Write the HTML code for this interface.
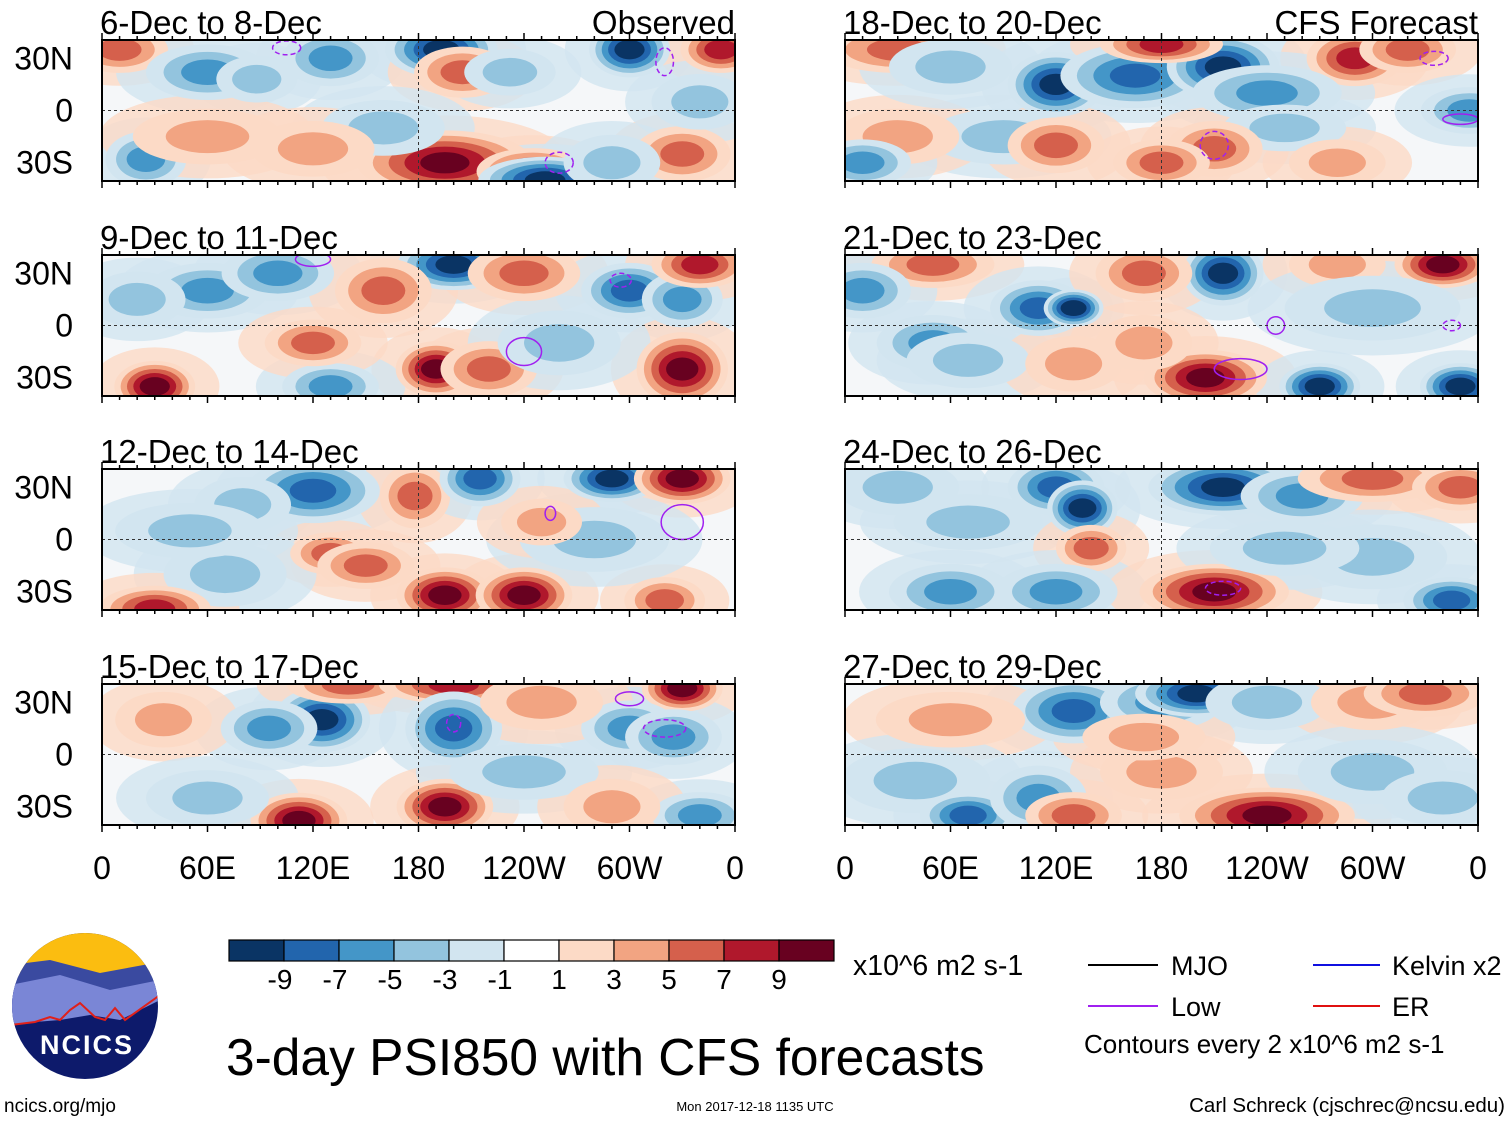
<!DOCTYPE html>
<html><head><meta charset="utf-8"><style>
body{margin:0;background:#fff;width:1510px;height:1121px;overflow:hidden;font-family:"Liberation Sans",sans-serif}
svg text{font-family:"Liberation Sans",sans-serif}
</style></head><body>
<svg id="fig" width="1510" height="1121" viewBox="0 0 1510 1121" xmlns="http://www.w3.org/2000/svg">
<g id="panels"></g>
<g id="bottom">
 <g>
  <clipPath id="logoclip"><circle cx="85" cy="1006" r="73"/></clipPath>
  <g clip-path="url(#logoclip)">
   <rect x="10" y="930" width="150" height="160" fill="#0d1a6b"/>
   <rect x="10" y="930" width="150" height="45" fill="#fbbd10"/>
   <path d="M10 965 L50 960 L100 973 L160 962 L160 1000 L10 1010Z" fill="#3a4aa0"/>
   <path d="M10 985 L60 975 L110 990 L160 980 L160 1000 L140 1010 L120 1020 L90 1015 L60 1020 L35 1022 L10 1025Z" fill="#7a86d6"/>
   <path d="M10 1025 L35 1022 L50 1017 L60 1020 L70 1010 L80 1003 L95 1017 L105 1020 L115 1008 L125 1020 L160 995" fill="none" stroke="#e0201a" stroke-width="2"/>
  </g>
  <text x="87" y="1054" font-size="27" font-weight="bold" fill="#fff" text-anchor="middle" letter-spacing="2">NCICS</text>
 </g>
 <text x="4" y="1112" font-size="19">ncics.org/mjo</text>
 <g id="cbar"></g>
 <text x="853" y="975" font-size="28.5">x10^6 m2 s-1</text>
 <text x="226" y="1075" font-size="51.5">3-day PSI850 with CFS forecasts</text>
 <text x="755" y="1111" font-size="13" text-anchor="middle">Mon 2017-12-18 1135 UTC</text>
 <text x="1505" y="1112" font-size="20.5" text-anchor="end">Carl Schreck (cjschrec@ncsu.edu)</text>
 <g>
  <line x1="1088" y1="965" x2="1158" y2="965" stroke="#000" stroke-width="2"/><text x="1171" y="975" font-size="27">MJO</text>
  <line x1="1088" y1="1006" x2="1158" y2="1006" stroke="#a020f0" stroke-width="2"/><text x="1171" y="1016" font-size="27">Low</text>
  <line x1="1313" y1="965" x2="1380" y2="965" stroke="#1010e0" stroke-width="2"/><text x="1392" y="975" font-size="27">Kelvin x2</text>
  <line x1="1313" y1="1006" x2="1380" y2="1006" stroke="#e01010" stroke-width="2"/><text x="1392" y="1016" font-size="27">ER</text>
  <text x="1084" y="1053" font-size="26">Contours every 2 x10^6 m2 s-1</text>
 </g>
</g>
</svg>
<script>
const levelColors=["#0a3464","#2265ad","#4496c8","#93c4de","#d2e5f0","#ffffff","#fcdac6","#f2a482","#d5604c","#b0182c","#680120"];
const levelTicks=["-9","-7","-5","-3","-1","1","3","5","7","9"];
const titles=["6-Dec to 8-Dec","9-Dec to 11-Dec","12-Dec to 14-Dec","15-Dec to 17-Dec","18-Dec to 20-Dec","21-Dec to 23-Dec","24-Dec to 26-Dec","27-Dec to 29-Dec"];
const lonTicks=[0,60,120,180,240,300,360];
const lonLabels=["0","60E","120E","180","120W","60W","0"];
const latTicks=[30,0,-30];
const latLabels=["30N","0","30S"];
// anomaly centres per panel: [lon, lat, value, lon-radius, lat-radius]
const blobs1=[[10,35,5,15,8],[60,22,-5,20,10],[88,18,-3,12,8],[130,30,-5,15,10],[193,35,-9,18,10],[205,22,5,15,9],[232,22,-3,14,8],[300,35,-9,12,10],[352,35,7,12,8],[195,-30,9,30,12],[245,-35,7,18,8],[252,-40,-9,22,8],[25,-28,-5,12,10],[160,-10,-3,20,10],[120,-22,3,20,10],[60,-15,3,25,10],[330,-25,5,15,10],[290,-30,-3,15,10],[340,5,-3,15,10]];
const blobs2=[[60,20,-5,20,10],[100,30,-5,18,10],[200,35,-9,18,9],[160,20,5,15,12],[240,30,5,18,10],[300,20,-7,15,10],[330,15,-5,12,10],[340,35,7,15,8],[30,-35,9,12,9],[190,-25,9,12,10],[220,-25,5,15,10],[330,-25,9,14,14],[130,-35,-5,15,8],[120,-10,5,15,8],[260,-10,-3,20,12],[20,15,-3,15,10]];
const blobs3=[[120,28,-7,22,12],[80,20,-3,15,10],[178,25,5,10,12],[215,35,-7,12,10],[290,35,-9,15,8],[330,35,9,15,9],[130,-8,5,12,7],[150,-15,5,15,8],[70,-20,-3,20,12],[30,-40,7,18,8],[195,-32,9,15,10],[240,-32,9,15,10],[320,-35,5,12,8],[280,0,-3,25,12],[250,10,3,12,8],[50,5,-3,25,10]];
const blobs4=[[125,20,-9,15,12],[95,15,-5,15,10],[140,40,5,20,6],[200,40,7,25,6],[200,15,-7,15,14],[330,38,9,12,8],[300,15,-5,15,10],[325,10,-5,15,10],[35,20,3,15,10],[112,-38,9,15,10],[195,-30,9,15,10],[240,-10,-3,25,10],[340,-35,-5,15,8],[60,-25,-3,20,10],[290,-30,3,15,10],[250,30,3,20,10]];
const blobs5=[[30,35,5,25,8],[120,15,-9,15,12],[165,20,-7,25,12],[215,25,-9,18,12],[180,38,7,20,6],[290,30,7,15,10],[320,35,5,15,8],[240,10,-5,25,10],[250,-10,-3,20,8],[90,-15,-3,25,10],[120,-20,5,15,10],[210,-22,5,15,10],[180,-30,5,15,8],[30,-15,3,20,10],[10,-30,-5,15,8],[355,0,-5,15,8],[280,-30,3,15,8],[60,25,-3,20,10]];
const blobs6=[[50,35,5,20,8],[10,20,-5,15,10],[110,10,-7,15,10],[130,10,-9,8,6],[215,30,-9,12,12],[170,30,5,15,10],[280,35,3,15,8],[340,35,9,15,8],[50,-10,-5,18,10],[70,-20,-3,20,10],[205,-30,9,20,10],[170,-10,3,15,10],[270,-35,-9,12,8],[350,-35,-9,12,8],[130,-22,3,15,10],[300,10,-3,30,12]];
const blobs7=[[120,30,-7,15,10],[135,18,-9,10,10],[215,30,-9,25,10],[260,25,-5,20,10],[300,35,5,25,8],[350,30,5,15,8],[30,30,-3,20,10],[70,10,-3,25,10],[140,-5,5,10,8],[60,-30,-5,20,10],[120,-30,-5,20,10],[210,-30,9,25,10],[300,-10,-3,25,12],[345,-35,-7,15,8],[250,-5,-3,25,10]];
const blobs8=[[130,25,-7,20,12],[180,30,-5,20,10],[200,35,-9,20,8],[240,30,-3,20,10],[300,30,3,20,10],[330,35,5,20,8],[60,20,3,25,10],[40,-15,-3,25,12],[70,-35,-7,15,8],[110,-25,-5,15,12],[180,-10,3,20,10],[240,-35,9,30,10],[130,-35,5,15,8],[300,-10,-3,25,12],[340,-25,-3,20,10],[170,10,3,20,8]];
const allBlobs=[blobs1,blobs2,blobs3,blobs4,blobs5,blobs6,blobs7,blobs8];
// purple "low" contours: [lon, lat, lon-radius, lat-radius, dashed]
const lows=[[[105,36,8,4,1],[260,-30,8,6,1],[320,28,5,8,1]],[[120,38,10,4,0],[240,-15,10,8,0],[295,26,6,4,1]],[[330,10,12,10,0],[255,15,3,4,0]],[[320,15,12,5,1],[200,18,4,5,1],[300,32,8,4,0]],[[335,30,8,4,1],[210,-20,8,8,1],[350,-5,10,3,0]],[[225,-25,15,6,0],[245,0,5,5,0],[345,0,5,3,1]],[[215,-28,10,4,1]],[]];
const NS="http://www.w3.org/2000/svg";
function mk(t,a,p){const e=document.createElementNS(NS,t);for(const k in a)e.setAttribute(k,a[k]);p.appendChild(e);return e;}
const colX=[102,845], rowY=[40,255,469,684], PW=633, PH=141;
const root=document.getElementById('panels');
allBlobs.forEach((bl,p)=>{
  const x0=colX[p<4?0:1], y0=rowY[p%4];
  const xs=lon=>x0+lon/360*PW, ys=lat=>y0+PH/2-lat*(PH/2)/40.5;
  const g=mk('g',{},root);
  
  
  const cp=mk('clipPath',{id:'c'+p},g);
  mk('rect',{x:x0,y:y0,width:PW,height:PH},cp);
  const inner=mk('g',{'clip-path':'url(#c'+p+')'},g);
  mk('rect',{x:x0,y:y0,width:PW,height:PH,fill:'#f5f7f9'},inner);
  // faint halo pass
  bl.forEach(b=>{
    const e=mk('ellipse',{cx:xs(b[0]),cy:ys(b[1]),rx:(b[3]*1.9+14)/360*PW,ry:(b[4]*1.6+8)*(PH/2)/40.5,fill:levelColors[5+Math.sign(b[2])],opacity:0.8},inner);
    
    
  });
  bl.forEach(b=>{
    const n=Math.ceil(Math.abs(b[2])/2);
    for(let i=1;i<=n;i++){
      const f=(n-i+1)/n;
      const e=mk('ellipse',{cx:xs(b[0]),cy:ys(b[1]),rx:(b[3]*1.5*f+5)/360*PW,ry:(b[4]*1.3*f+3)*(PH/2)/40.5,fill:levelColors[5+Math.sign(b[2])*i]},inner);
      
      
    }
  });
  (lows[p]||[]).forEach(l=>{
    const e=mk('ellipse',{cx:xs(l[0]),cy:ys(l[1]),rx:l[2]/360*PW,ry:l[3]*(PH/2)/40.5,fill:'none',stroke:'#a020f0','stroke-width':1.5,'stroke-dasharray':l[4]?'5,3':'none'},inner);
    
    
  });
  mk('line',{x1:x0,x2:x0+PW,y1:ys(0),y2:ys(0),stroke:'#333','stroke-dasharray':'3,3'},g);
  mk('line',{x1:xs(180),x2:xs(180),y1:y0,y2:y0+PH,stroke:'#333','stroke-dasharray':'3,3'},g);
  mk('rect',{x:x0,y:y0,width:PW,height:PH,fill:'none',stroke:'#000','stroke-width':2},g);
  for(let lon=0;lon<=360;lon+=10){const L=lon%60==0?7:4;
    mk('line',{x1:xs(lon),x2:xs(lon),y1:y0,y2:y0-L,stroke:'#000','stroke-width':1.5},g);
    mk('line',{x1:xs(lon),x2:xs(lon),y1:y0+PH,y2:y0+PH+L,stroke:'#000','stroke-width':1.5},g);}
  const t=mk('text',{x:x0-2,y:y0-6,'font-size':33},g);t.textContent=titles[p];
  
  
  if(p==0||p==4){const s=mk('text',{x:x0+PW,y:y0-6,'font-size':33,'text-anchor':'end'},g);s.textContent=p==0?'Observed':'CFS Forecast';
    
    }
  if(p<4) latTicks.forEach((la,i)=>{const tt=mk('text',{x:73,y:ys(la)+11,'font-size':32,'text-anchor':'end'},g);tt.textContent=latLabels[i];
    
    });
  if(p%4==3) lonTicks.forEach((lo,i)=>{const tt=mk('text',{x:xs(lo),y:879,'font-size':32,'text-anchor':'middle'},g);tt.textContent=lonLabels[i];
    
    });
});
const cb=document.getElementById('cbar');
levelColors.forEach((c,i)=>{const r=mk('rect',{x:229+i*55,y:940,width:55,height:21,fill:c,stroke:'#000','stroke-width':1.2},cb);
  
  });
levelTicks.forEach((s,i)=>{const t=mk('text',{x:229+(i+1)*55-(s[0]=='-'?4:0),y:989,'font-size':28,'text-anchor':'middle'},cb);t.textContent=s;
  
  });
</script>
</body></html>
